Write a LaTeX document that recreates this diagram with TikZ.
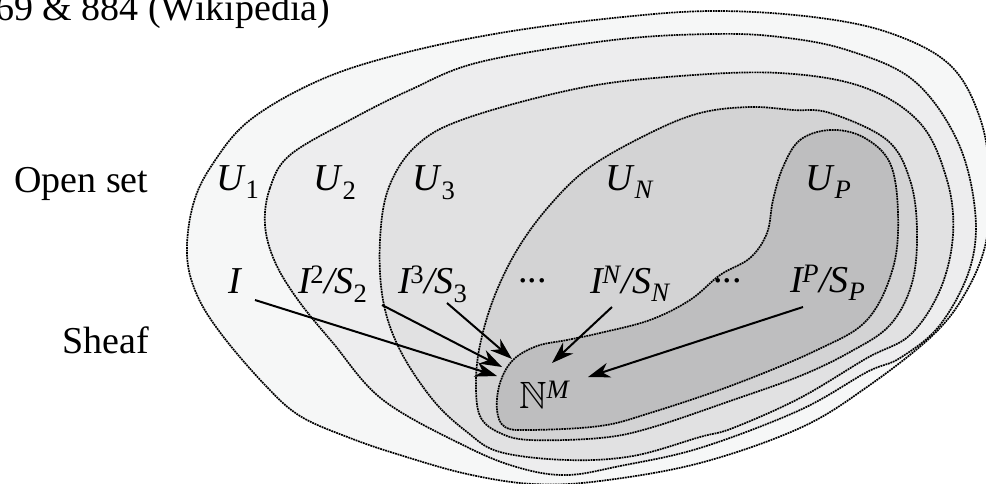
\documentclass[tikz,border=0pt]{standalone}
\usepackage{amssymb}
\usepackage{fontspec}
\setmainfont{Liberation Serif}
\usetikzlibrary{arrows.meta}
\definecolor{cU1}{HTML}{F6F7F7}
\definecolor{cU2}{HTML}{EDEDEE}
\definecolor{cU3}{HTML}{E1E1E2}
\definecolor{cUN}{HTML}{D3D3D4}
\definecolor{cUP}{HTML}{BEBEBF}
\tikzset{
  region/.style={draw=black, line width=1.7pt, dash pattern=on 1.8pt off 0.8pt},
  lbl/.style={anchor=base west, inner sep=0pt, font=\fontsize{38}{40}\selectfont},
  arr/.style={line width=2pt, -{Stealth[length=22pt,width=15pt,inset=7pt]}},
}
\newcommand{\mi}[1]{\textit{#1}}
\newcommand{\mydots}{\raisebox{11pt}{...}}
\begin{document}
\begin{tikzpicture}[x=1pt,y=-1pt]
\useasboundingbox (0,0) rectangle (986,483);
% regions
\path[region, fill=cU1] plot[smooth cycle, tension=0.6] coordinates {(187,255) (193,205) (212,165) (250,120) (320,80) (400,54) (500,33) (613,18) (713,11) (813,17) (890,33) (950,65) (980,118) (990,180) (986,242) (966,292) (933,335) (867,387) (800,428) (700,463) (600,481) (533,484) (467,474) (400,455) (350,438) (300,416) (265,385) (222,335) (197,295)};
\path[region, fill=cU2] plot[smooth cycle, tension=0.6] coordinates {(265,225) (270,188) (290,155) (350,120) (410,90) (480,62) (613,40) (713,34) (780,37) (847,50) (913,80) (957,140) (975,210) (970,268) (940,325) (900,358) (867,372) (800,410) (700,448) (620,466) (567,475) (520,468) (467,447) (383,400) (333,343) (298,300) (275,262)};
\path[region, fill=cU3] plot[smooth cycle, tension=0.6] coordinates {(380,240) (389,187) (417,145) (467,118) (580,88) (680,76) (780,73) (863,87) (920,123) (947,180) (953,235) (940,290) (910,335) (867,358) (800,398) (733,428) (700,437) (633,456) (567,460) (500,452) (467,432) (433,400) (400,350) (383,300)};
\path[region, fill=cUN] plot[smooth cycle, tension=0.6] coordinates {(476,390) (479,350) (493,300) (517,250) (550,205) (590,167) (650,133) (700,113) (750,107) (793,110) (830,113) (887,140) (910,180) (917,230) (912,283) (890,325) (850,352) (800,376) (733,400) (650,428) (600,438) (530,440) (500,433) (481,418)};
\path[region, fill=cUP] plot[smooth cycle, tension=0.6] coordinates {(783,167) (800,140) (830,130) (863,137) (890,163) (898,213) (893,268) (867,320) (817,350) (733,385) (650,413) (600,426) (530,430) (505,427) (497,410) (500,383) (513,360) (537,346) (567,340) (600,333) (650,320) (690,300) (720,275) (750,258) (767,233) (773,200)};
% texts
\node[lbl] (title) at (-5,20) {69 \& 884 (Wikipedia)};
\node[lbl] (open) at (14,192) {Open set};
\node[lbl] (sheaf) at (62,353) {Sheaf};
\node[lbl] (u1) at (216,190) {\mi{U}\textsubscript{1}};
\node[lbl] (u2) at (313,190) {\mi{U}\textsubscript{2}};
\node[lbl] (u3) at (412,190) {\mi{U}\textsubscript{3}};
\node[lbl] (uN) at (605,190) {\mi{U}\textsubscript{\mi{N}}};
\node[lbl] (uP) at (805,190) {\mi{U}\textsubscript{\mi{P}}};
\node[lbl] (i1) at (228,293) {\mi{I}};
\node[lbl] (i2) at (298,293) {\mi{I}\kern-2pt\textsuperscript{2}\mi{/S}\textsubscript{2}};
\node[lbl] (i3) at (398,293) {\mi{I}\kern-2pt\textsuperscript{3}\mi{/S}\textsubscript{3}};
\node[lbl] (d1) at (518,293) {\mydots};
\node[lbl] (iN) at (590,293) {\mi{I}\kern-2pt\textsuperscript{\mi{N}}\mi{/S}\textsubscript{\mi{N}}};
\node[lbl] (d2) at (713,293) {\mydots};
\node[lbl] (iP) at (790,292) {\mi{I}\kern-2pt\textsuperscript{\mi{P}}\mi{/S}\textsubscript{\mi{P}}};
\node[lbl] (nm) at (519,408) {$\mathbb{N}$\textsuperscript{\mi{M}}};
% arrows
\coordinate (s1) at (255,300);
\coordinate (s2) at (382,305);
\coordinate (s3) at (447,303);
\coordinate (sN) at (612,307);
\coordinate (sP) at (803,307);
\coordinate (t1) at (497,376);
\coordinate (t2) at (502,367);
\coordinate (t3) at (512,359);
\coordinate (tN) at (552,363);
\coordinate (tP) at (588,377);
\draw[arr] (s1) -- (t1);
\draw[arr] (s2) -- (t2);
\draw[arr] (s3) -- (t3);
\draw[arr] (sN) -- (tN);
\draw[arr] (sP) -- (tP);
\end{tikzpicture}
\end{document}
